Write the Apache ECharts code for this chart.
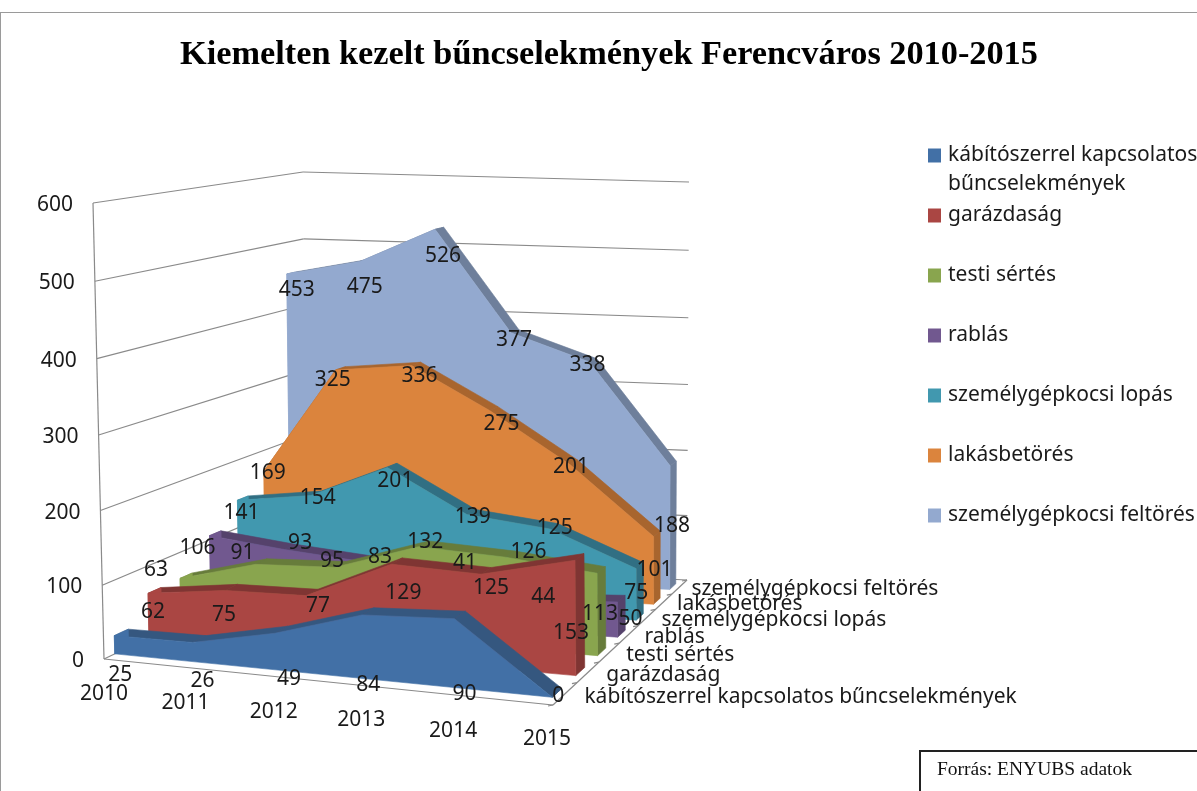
<!DOCTYPE html>
<html><head><meta charset="utf-8">
<style>html,body{margin:0;padding:0;background:#fff}#c{width:1197px;height:791px}</style>
<script src="https://cdn.jsdelivr.net/npm/echarts@6/dist/echarts.min.js"></script></head>
<body><div id="c"></div>
<script>
const years=['2010','2011','2012','2013','2014','2015'];
const seriesNames=['kábítószerrel kapcsolatos bűncselekmények','garázdaság','testi sértés','rablás','személygépkocsi lopás','lakásbetörés','személygépkocsi feltörés'];
const kabitoszer=[25,26,49,84,90,0];
const garazdasag=[62,75,77,129,125,153];
const testiSertes=[63,91,95,132,126,113];
const rablas=[106,93,83,41,44,50];
const lopas=[141,154,201,139,125,75];
const lakasbetores=[169,325,336,275,201,101];
const feltores=[453,475,526,377,338,188];
const yTicks=[0,100,200,300,400,500,600];
const faceColors=['#4270a6','#aa4643','#89a54e','#71588f','#4198af','#db843d','#93a9cf'];
const sideColors=['#35577f','#7f3533','#677c3b','#55426b','#316f83','#a8652e','#6e7f9b'];
const values=[kabitoszer,garazdasag,testiSertes,rablas,lopas,lakasbetores,feltores];

// label placement, as pixel nudges from the projected data point
const labelNudge=[
 [[6,39],[10,39],[14,46],[6,70],[10,75],[6,-1]],
 [[5,19],[-1,25],[12,10],[12,29],[10,14],[-4,73]],
 [[-24,-8],[-13,-11],[-3,-6],[7,-5],[23,-5],[3,41]],
 [[-12,12],[16,-6],[18,-4],[22,-33],[15,-3],[13,17]],
 [[4,13],[7,2],[8,13],[6,2],[5,-1],[0,24]],
 [[4,2],[-3,10],[8,10],[12,14],[1,3],[1,34]],
 [[10,16],[5,25],[8,27],[3,7],[-2,3],[2,60]]];
const yearNudge=[[0,35],[2,36],[6,36],[4,35],[1,36],[-6,34]];

function quad(p0,p1,p2,p3){
  const dx1=p1[0]-p2[0],dx2=p3[0]-p2[0],sx=p0[0]-p1[0]+p2[0]-p3[0];
  const dy1=p1[1]-p2[1],dy2=p3[1]-p2[1],sy=p0[1]-p1[1]+p2[1]-p3[1];
  const det=dx1*dy2-dx2*dy1,g=(sx*dy2-dx2*sy)/det,h=(dx1*sy-sx*dy1)/det;
  const a=p1[0]-p0[0]+g*p1[0],b=p3[0]-p0[0]+h*p3[0],d=p1[1]-p0[1]+g*p1[1],e=p3[1]-p0[1]+h*p3[1];
  return (u,v)=>{const w=g*u+h*v+1;return [(a*u+b*v+p0[0])/w,(d*u+e*v+p0[1])/w];};
}
// the 3D box: floor and top plane of the value range
const floorMap=quad([104,659],[553,705],[687,580],[307,562]);
const topMap=quad([93,203],[549,220],[689,182],[303,172]);
function project(u,v,h){const f=floorMap(u,v),t=topMap(u,v),k=h-0.035*h*(1-h);return [f[0]+(t[0]-f[0])*k,f[1]+(t[1]-f[1])*k];}
const warpU=u=>u+0.06*u*(1-u);
const ribbonU=u=>warpU(u)*0.985;
const depthFront=i=>(i+0.3)/7, depthBack=i=>(i+0.7)/7;
function norm(params,api,j,val){const c=api.coord([j,val]),s=params.coordSys;return [(c[0]-s.x)/s.width,(s.y+s.height-c[1])/s.height];}
const FONT='"Noto Sans"',FS=21,INK='#1a1a1a';

function ribbon(i){return function(params,api){
  if(params.dataIndex!==0)return null;
  const pts=values[i].map((val,j)=>{const n=norm(params,api,j,val);return [ribbonU(n[0]),n[1]];});
  const zero=norm(params,api,0,0)[1];
  const v0=depthFront(i),v1=depthBack(i),children=[];
  const poly=(p,fill)=>children.push({type:'polygon',shape:{points:p},style:{fill:fill,stroke:fill,lineWidth:0.6}});
  for(let j=0;j<pts.length-1;j++){
    poly([project(pts[j][0],v0,pts[j][1]),project(pts[j+1][0],v0,pts[j+1][1]),project(pts[j+1][0],v1,pts[j+1][1]),project(pts[j][0],v1,pts[j][1])],sideColors[i]);
  }
  const last=pts[pts.length-1],first=pts[0];
  poly([project(last[0],v0,last[1]),project(last[0],v1,last[1]),project(last[0],v1,zero),project(last[0],v0,zero)],sideColors[i]);
  poly([project(first[0],v0,first[1]),project(first[0],v1,first[1]),project(first[0],v1,zero),project(first[0],v0,zero)],faceColors[i]);
  const front=pts.map(p=>project(p[0],v0,p[1]));
  front.push(project(last[0],v0,zero),project(first[0],v0,zero));
  poly(front,faceColors[i]);
  return {type:'group',children:children};
};}

const series=[];
series.push({type:'custom',name:'falak',z:1,silent:true,data:yTicks.map(t=>[0,t]),encode:{x:0,y:1},
 renderItem(params,api){
  const h=norm(params,api,0,api.value(1))[1],ln=(a,b)=>({type:'line',shape:{x1:a[0],y1:a[1],x2:b[0],y2:b[1]},style:{stroke:'#8a8a8a',lineWidth:1.2}});
  const a=project(0,0,h),b=project(0,1,h),c=project(1,1,h),kids=[ln(a,b),ln(b,c)];
  if(params.dataIndex===0){
    kids.push(ln(project(0,0,0),project(0,0,1)),ln(project(0,0,0),project(1,0,0)),ln(project(1,0,0),project(1,1,0)));
    for(let k=0;k<=7;k++){const p=project(1,k/7,0);kids.push(ln(p,[p[0]-5,p[1]+1]));}
  }
  kids.push({type:'text',style:{text:String(api.value(1)),x:a[0]-20,y:a[1]+2,align:'right',verticalAlign:'middle',fontFamily:FONT,fontSize:FS,fill:INK}});
  return {type:'group',children:kids};
 }});
values.forEach((vals,i)=>series.push({type:'custom',name:seriesNames[i],z:10-i,silent:true,itemStyle:{color:faceColors[i]},
  data:vals.map((v,j)=>[j,v]),encode:{x:0,y:1},renderItem:ribbon(i)}));
const rows=[];values.forEach((vals,i)=>vals.forEach((v,j)=>rows.push([j,v,i])));
series.push({type:'custom',name:'feliratok',z:30,silent:true,data:rows,encode:{x:0,y:1},
 renderItem(params,api){
  const j=api.value(0),val=api.value(1),i=api.value(2),n=norm(params,api,j,val),p=project(ribbonU(n[0]),depthFront(i),n[1]),d=labelNudge[i][j];
  return {type:'text',style:{text:String(val),x:p[0]+d[0],y:p[1]+d[1],align:'center',verticalAlign:'middle',fontFamily:FONT,fontSize:FS,fill:INK}};
 }});
series.push({type:'custom',name:'evek',z:30,silent:true,data:years.map((y,j)=>[j,0]),encode:{x:0,y:1},
 renderItem(params,api){
  const j=api.value(0),n=norm(params,api,j,0),p=project(warpU(n[0]),0,0),d=yearNudge[j];
  return {type:'text',style:{text:years[j],x:p[0]+d[0],y:p[1]+d[1],align:'center',verticalAlign:'middle',fontFamily:FONT,fontSize:FS,fill:INK}};
 }});
series.push({type:'custom',name:'melyseg',z:30,silent:true,data:seriesNames.map((s,i)=>[0,0,i]),encode:{x:0,y:1},
 renderItem(params,api){
  const i=api.value(2),p=project(1,depthFront(i),0);
  return {type:'text',style:{text:seriesNames[i],x:p[0]+24-1.5*i,y:p[1]-1,align:'left',verticalAlign:'middle',fontFamily:FONT,fontSize:FS,fill:INK}};
 }});

const chart=echarts.init(document.getElementById('c'),null,{renderer:'canvas'});
chart.setOption({
 animation:false,backgroundColor:'#fff',
 title:{text:'Kiemelten kezelt bűncselekmények Ferencváros 2010-2015',left:175,top:33,textStyle:{fontFamily:'"Liberation Serif"',fontWeight:'bold',fontSize:34.3,color:'#000'}},
 legend:{orient:'vertical',left:923,top:140,itemWidth:13,itemHeight:14,itemGap:39,icon:'rect',selectedMode:false,
   data:seriesNames,
   formatter:n=>n.replace(' bűncselekmények',''),
   textStyle:{fontFamily:FONT,fontSize:FS,color:INK,padding:[0,0,0,2]}},
 grid:{left:100,right:100,top:100,bottom:100,show:false},
 xAxis:{type:'category',data:years,boundaryGap:false,show:false},
 yAxis:{type:'value',min:0,max:600,interval:100,show:false},
 graphic:[
  {type:'rect',z:50,shape:{x:0,y:12,width:1197,height:1},style:{fill:'#9a9a9a'}},
  {type:'rect',z:50,shape:{x:0,y:12,width:1,height:779},style:{fill:'#9a9a9a'}},
  {type:'rect',z:50,shape:{x:920,y:751,width:300,height:60},style:{fill:'#fff',stroke:'#222',lineWidth:2}},
  {type:'text',z:51,style:{text:'Forrás: ENYUBS adatok',x:937,y:770,verticalAlign:'middle',fontFamily:'"Liberation Serif"',fontSize:19.5,fill:'#111'}},
  {type:'text',z:51,style:{text:'bűncselekmények',x:948,y:184,verticalAlign:'middle',fontFamily:FONT,fontSize:FS,fill:INK}}
 ],
 series:series
});
</script></body></html>
